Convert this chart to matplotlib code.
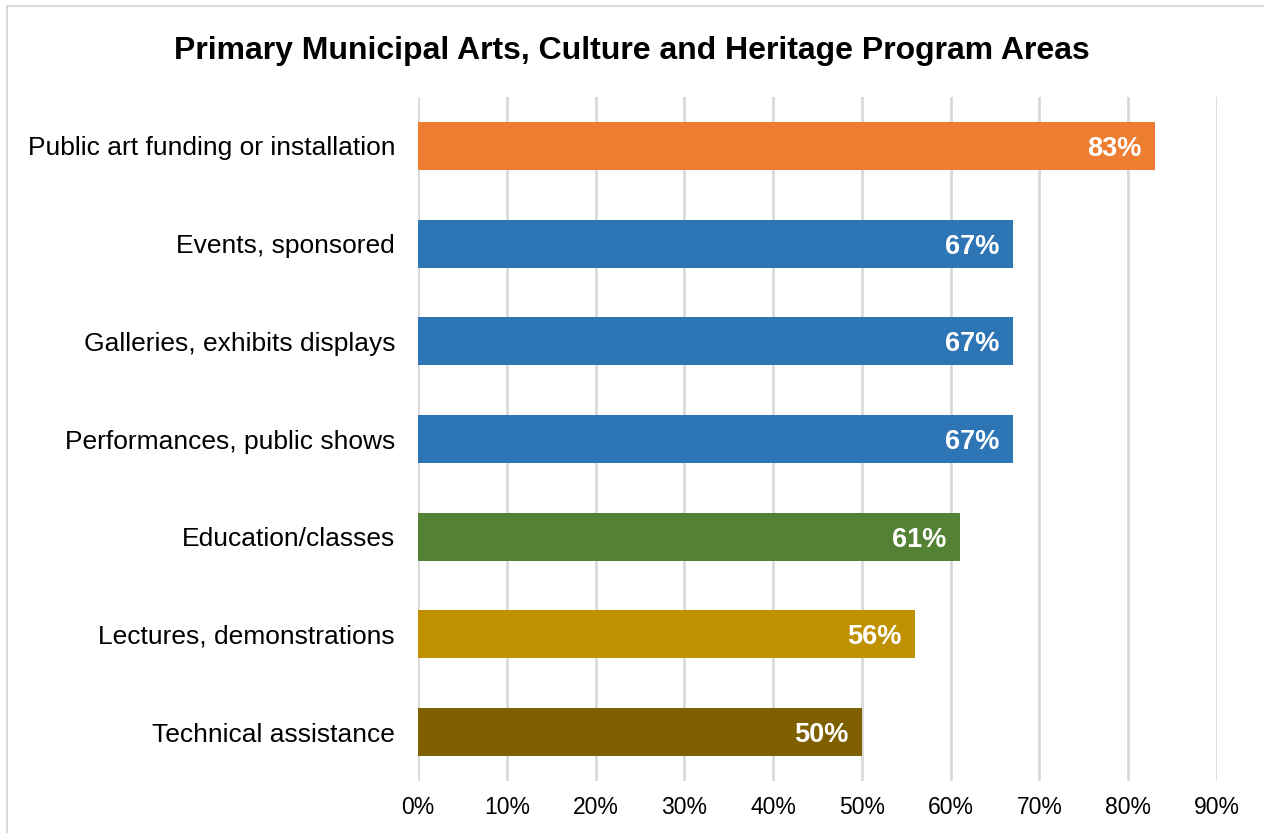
import matplotlib.pyplot as plt
from matplotlib.patches import Rectangle
from matplotlib.ticker import FuncFormatter

plt.rcParams['font.family'] = ['Liberation Sans', 'DejaVu Sans']

categories = ['Public art funding or installation', 'Events, sponsored',
              'Galleries, exhibits displays', 'Performances, public shows',
              'Education/classes', 'Lectures, demonstrations',
              'Technical assistance']
values = [83, 67, 67, 67, 61, 56, 50]
colors = ['#ED7D31', '#2E75B6', '#2E75B6', '#2E75B6', '#548235',
          '#BF9000', '#7F6000']
x_ticks = [0, 10, 20, 30, 40, 50, 60, 70, 80, 90]

fig = plt.figure(figsize=(12.64, 8.33), dpi=100)
ax = fig.add_axes([418 / 1264, 1 - 781 / 833, (1217 - 418) / 1264, (781 - 97) / 833])

ypos = list(range(len(categories)))
ax.barh(ypos, values, height=0.49, color=colors, zorder=2)

for y, v in zip(ypos, values):
    ax.text(v - 1.5, y, f'{v}%', ha='right', va='center_baseline', color='white',
            fontsize=19.5, fontweight='bold', zorder=3)

ax.set_xlim(0, 90)
ax.set_ylim(len(categories) - 0.5, -0.5)
ax.set_xticks(x_ticks)
ax.xaxis.set_major_formatter(FuncFormatter(lambda x, p: f'{x:.0f}%'))
ax.set_yticks(ypos)
ax.set_yticklabels(categories)
ax.tick_params(axis='x', length=0, pad=11, labelsize=16.5)
ax.tick_params(axis='y', length=0, pad=16.5, labelsize=19)
ax.grid(axis='x', color='#D9D9D9', linewidth=2, zorder=0)
for s in ax.spines.values():
    s.set_visible(False)

fig.text(0.5, 1 - 48 / 833, 'Primary Municipal Arts, Culture and Heritage Program Areas',
         ha='center', va='center_baseline', fontsize=23, fontweight='bold')

# thin frame around the chart area
fig.patches.append(Rectangle((7 / 1264, -0.05), 1.1, 1 - 6 / 833 + 0.05,
                             transform=fig.transFigure, fill=False,
                             edgecolor='#D9D9D9', linewidth=1.5))

fig.savefig('out.png', dpi=100)
